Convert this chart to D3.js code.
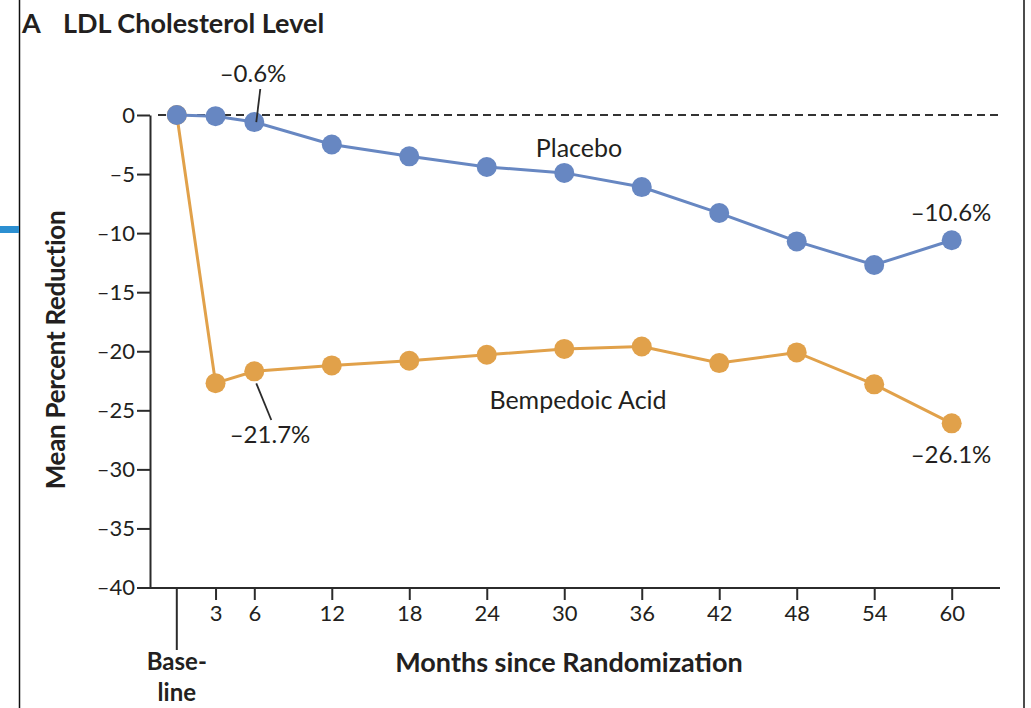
<!DOCTYPE html>
<html>
<head>
<meta charset="utf-8">
<script src="https://cdn.jsdelivr.net/npm/d3@7"></script>
<style>
  html, body { margin: 0; padding: 0; background: #fff; }
  svg { display: block; }
  text { font-family: Lato, "Open Sans", sans-serif; fill: #231f20; }
</style>
</head>
<body>
<svg id="chart" width="1031" height="708"></svg>
<script>
// LDL cholesterol, mean percent change from baseline by visit
const months = [0, 3, 6, 12, 18, 24, 30, 36, 42, 48, 54, 60];
const placebo = [0, -0.1, -0.6, -2.5, -3.5, -4.4, -4.9, -6.1, -8.3, -10.7, -12.7, -10.6];
const bempedoic = [0, -22.7, -21.7, -21.2, -20.8, -20.3, -19.8, -19.6, -21.0, -20.1, -22.8, -26.1];
const xTicks = [3, 6, 12, 18, 24, 30, 36, 42, 48, 54, 60];
const yTicks = [0, -5, -10, -15, -20, -25, -30, -35, -40];

const svg = d3.select("#chart");
const ink = "#2b2b2b";
const blue = "#6787c2";
const orange = "#e1a14a";

const x = d3.scaleLinear().domain([0, 60]).range([176.8, 951.7]);
const y = d3.scaleLinear().domain([0, -40]).range([115, 587.5]);
const dash = v => (v < 0 ? "\u2013" + Math.abs(v) : String(v));

// panel frame lines and side marker
svg.append("line").attr("x1", 19.5).attr("x2", 19.5).attr("y1", 0).attr("y2", 708)
  .attr("stroke", "#111").attr("stroke-width", 1.5);
svg.append("line").attr("x1", 1024).attr("x2", 1024).attr("y1", 0).attr("y2", 708)
  .attr("stroke", "#111").attr("stroke-width", 1.5);
svg.append("rect").attr("x", 0).attr("y", 226).attr("width", 19).attr("height", 7)
  .attr("fill", "#2b8fd1");

// title
svg.append("text").attr("x", 22).attr("y", 33)
  .attr("font-size", 27).attr("font-weight", 700).text("A");
svg.append("text").attr("x", 63).attr("y", 33)
  .attr("font-size", 27).attr("font-weight", 700)
  .text("LDL Cholesterol Level");

// y axis
const yAxis = svg.append("g").attr("transform", "translate(150,0)")
  .call(d3.axisLeft(y).tickValues(yTicks).tickFormat(dash).tickSize(13).tickSizeOuter(0).tickPadding(2));
yAxis.select(".domain").attr("stroke", ink).attr("stroke-width", 2);
yAxis.selectAll(".tick line").attr("stroke", ink).attr("stroke-width", 2);
yAxis.selectAll(".tick text").attr("font-size", 22).attr("font-family", "Lato, sans-serif")
  .attr("fill", "#231f20").attr("dy", "0.34em");

// x axis
const x0 = 150, x1 = 1000, yBase = 588;
svg.append("line").attr("x1", x0 - 1).attr("x2", x1).attr("y1", yBase).attr("y2", yBase)
  .attr("stroke", ink).attr("stroke-width", 2);
const xAxis = svg.append("g").attr("transform", `translate(0,${yBase})`)
  .call(d3.axisBottom(x).tickValues(xTicks).tickFormat(d3.format("d")).tickSize(12).tickPadding(5));
xAxis.select(".domain").remove();
xAxis.selectAll(".tick line").attr("stroke", ink).attr("stroke-width", 2);
xAxis.selectAll(".tick text").attr("font-size", 22).attr("font-family", "Lato, sans-serif")
  .attr("fill", "#231f20");
// baseline tick
svg.append("line").attr("x1", x(0)).attr("x2", x(0)).attr("y1", yBase).attr("y2", 650)
  .attr("stroke", ink).attr("stroke-width", 2);
svg.append("text").attr("x", x(0)).attr("y", 670).attr("text-anchor", "middle")
  .attr("font-size", 24).attr("font-weight", 700).text("Base-");
svg.append("text").attr("x", x(0)).attr("y", 701).attr("text-anchor", "middle")
  .attr("font-size", 24).attr("font-weight", 700).text("line");

// axis titles
svg.append("text").attr("x", 569).attr("y", 672).attr("text-anchor", "middle")
  .attr("font-size", 27).attr("font-weight", 700)
  .text("Months since Randomization");
svg.append("text").attr("transform", `translate(65,${350}) rotate(-90)`).attr("text-anchor", "middle")
  .attr("font-size", 26).attr("font-weight", 700).attr("letter-spacing", -0.3)
  .text("Mean Percent Reduction");

// reference line at zero
svg.append("line").attr("x1", 158).attr("x2", x1).attr("y1", y(0)).attr("y2", y(0))
  .attr("stroke", "#333").attr("stroke-width", 2).attr("stroke-dasharray", "8,5");

// series (placebo drawn last so its markers sit on top)
const series = [
  { name: "Bempedoic Acid", values: bempedoic, color: orange },
  { name: "Placebo", values: placebo, color: blue }
];
const line = d3.line().x(d => x(d[0])).y(d => y(d[1]));
series.forEach(s => {
  const pts = months.map((m, i) => [m, s.values[i]]);
  svg.append("path").datum(pts).attr("d", line)
    .attr("fill", "none").attr("stroke", s.color).attr("stroke-width", 3);
  svg.append("g").selectAll("circle").data(pts).join("circle")
    .attr("cx", d => x(d[0])).attr("cy", d => y(d[1])).attr("r", 10).attr("fill", s.color);
});

// series names
svg.append("text").attr("x", 579).attr("y", 157).attr("text-anchor", "middle")
  .attr("font-size", 25).text("Placebo");
svg.append("text").attr("x", 578).attr("y", 409).attr("text-anchor", "middle")
  .attr("font-size", 25).text("Bempedoic Acid");

// value callouts
const pct = v => "\u2013" + Math.abs(v).toFixed(1) + "%";
const iLast = months.length - 1;
const i6 = months.indexOf(6);
// leader lines
svg.append("line").attr("x1", x(6) + 6).attr("y1", 89).attr("x2", x(6) + 2).attr("y2", y(placebo[i6]))
  .attr("stroke", ink).attr("stroke-width", 1.8);
svg.append("line").attr("x1", x(6) + 2).attr("y1", y(bempedoic[i6]) + 12).attr("x2", x(6) + 17).attr("y2", 420)
  .attr("stroke", ink).attr("stroke-width", 1.8);
svg.append("text").attr("x", 253).attr("y", 82).attr("text-anchor", "middle")
  .attr("font-size", 24).text(pct(placebo[i6]));
svg.append("text").attr("x", 270).attr("y", 443).attr("text-anchor", "middle")
  .attr("font-size", 24).text(pct(bempedoic[i6]));
svg.append("text").attr("x", 951).attr("y", 221).attr("text-anchor", "middle")
  .attr("font-size", 24).text(pct(placebo[iLast]));
svg.append("text").attr("x", 951).attr("y", 463).attr("text-anchor", "middle")
  .attr("font-size", 24).text(pct(bempedoic[iLast]));
</script>
</body>
</html>
